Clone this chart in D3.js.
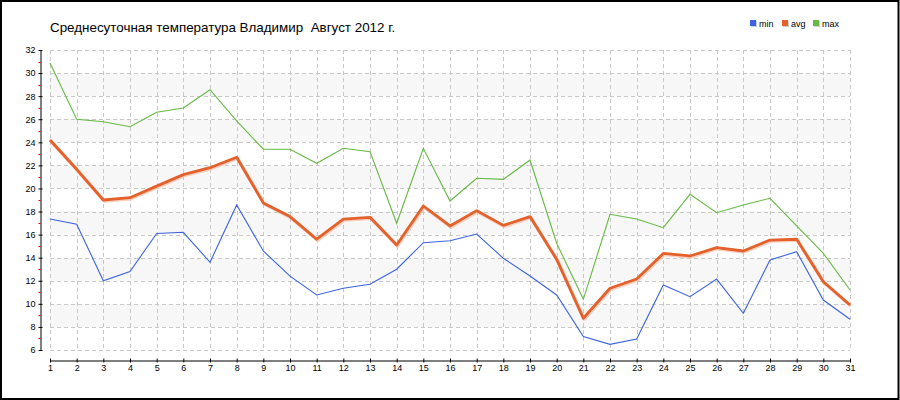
<!DOCTYPE html>
<html>
<head>
<meta charset="utf-8">
<script src="https://cdn.jsdelivr.net/npm/d3@7"></script>
<style>
  html, body { margin: 0; padding: 0; background: #fff; }
  svg { display: block; }
</style>
</head>
<body>
<svg id="chart" width="900" height="400"></svg>
<script>
const title = "Среднесуточная температура Владимир  Август 2012 г.";
const days = d3.range(1, 32);
const minValues = [17.35, 16.9, 12.0, 12.8, 16.1, 16.2, 13.6, 18.57, 14.58, 12.4, 10.77, 11.35, 11.7, 13.0, 15.3, 15.47, 16.05, 13.95, 12.41, 10.77, 7.16, 6.49, 6.95, 11.63, 10.62, 12.15, 9.18, 13.8, 14.52, 10.33, 8.66];
const avgValues = [24.2, 21.66, 19.0, 19.2, 20.2, 21.2, 21.8, 22.7, 18.75, 17.56, 15.6, 17.35, 17.5, 15.1, 18.48, 16.75, 18.08, 16.8, 17.56, 13.86, 8.75, 11.35, 12.15, 14.37, 14.15, 14.87, 14.58, 15.53, 15.6, 11.92, 9.9];
const maxValues = [30.87, 26.0, 25.78, 25.35, 26.6, 26.97, 28.56, 25.85, 23.4, 23.4, 22.18, 23.48, 23.19, 16.98, 23.48, 18.91, 20.88, 20.79, 22.47, 15.25, 10.39, 17.76, 17.35, 16.6, 19.49, 17.9, 18.57, 19.15, 16.75, 14.38, 11.2];
const seriesNames = ["min", "avg", "max"];
const seriesColors = ["#3d63e0", "#e4612b", "#66b944"];
const yTicks = d3.range(6, 33, 2);
const yMinorTicks = d3.range(7, 32, 2);
const bands = [[8, 10], [12, 14], [16, 18], [20, 22], [24, 26], [28, 30]];

const svg = d3.select("#chart");
const W = 900, H = 400;
const x = d3.scaleLinear().domain([1, 31]).range([50, 850]);
const y = d3.scaleLinear().domain([6, 32]).range([350, 50]);

// outer frame
svg.append("rect").attr("x", 1).attr("y", 1).attr("width", W - 2.5).attr("height", H - 2)
  .attr("fill", "#fff").attr("stroke", "#000").attr("stroke-width", 2);

// bands
svg.append("g").selectAll("rect").data(bands).join("rect")
  .attr("x", x(1)).attr("width", x(31) - x(1))
  .attr("y", d => y(d[1])).attr("height", d => y(d[0]) - y(d[1]))
  .attr("fill", "#f7f7f7");

// grid
const grid = svg.append("g").attr("stroke", "#c8c8c8").attr("stroke-width", 1).attr("stroke-dasharray", "4,3");
grid.selectAll(".h").data(yTicks).join("line")
  .attr("x1", x(1)).attr("x2", x(31))
  .attr("y1", d => Math.round(y(d)) + 0.5).attr("y2", d => Math.round(y(d)) + 0.5);
grid.selectAll(".v").data(days).join("line")
  .attr("y1", y(32)).attr("y2", y(6))
  .attr("x1", d => Math.round(x(d)) + 0.5).attr("x2", d => Math.round(x(d)) + 0.5);

// y axis
const yAxis = d3.axisLeft(y).tickValues(yTicks).tickSize(2).tickPadding(3).tickSizeOuter(0);
const gy = svg.append("g").attr("transform", "translate(40.5,0)").call(yAxis);
gy.select(".domain").attr("stroke", "#000");
gy.selectAll(".tick line").attr("x1", 2).attr("x2", -2).attr("stroke", "#000");
gy.selectAll(".tick text").attr("font-family", "Liberation Sans, Arial, sans-serif").attr("font-size", 9).attr("fill", "#000");
gy.selectAll(".minor").data(yMinorTicks).join("line")
  .attr("x1", -2).attr("x2", 0)
  .attr("y1", d => Math.round(y(d)) + 0.5).attr("y2", d => Math.round(y(d)) + 0.5)
  .attr("stroke", "#e00000");

// x axis
const xAxis = d3.axisBottom(x).tickValues(days).tickFormat(d3.format("d")).tickSize(2).tickPadding(2).tickSizeOuter(0);
const gx = svg.append("g").attr("transform", "translate(0,360.5)").call(xAxis);
gx.select(".domain").attr("stroke", "#000");
gx.selectAll(".tick line").attr("y1", -2).attr("y2", 2).attr("stroke", "#000");
gx.selectAll(".tick text").attr("font-family", "Liberation Sans, Arial, sans-serif").attr("font-size", 9).attr("fill", "#000");

// lines
const line = d3.line().x((d, i) => x(days[i])).y(d => y(d));
svg.append("path").datum(maxValues).attr("d", line).attr("fill", "none")
  .attr("stroke", seriesColors[2]).attr("stroke-width", 1.1);
svg.append("path").datum(minValues).attr("d", line).attr("fill", "none")
  .attr("stroke", seriesColors[0]).attr("stroke-width", 1.1);
svg.append("path").datum(avgValues).attr("d", line).attr("fill", "none")
  .attr("stroke", "#f5c4b0").attr("stroke-width", 3.5).attr("stroke-linejoin", "round")
  .attr("transform", "translate(0.8,1)").attr("opacity", 0.8);
svg.append("path").datum(avgValues).attr("d", line).attr("fill", "none")
  .attr("stroke", seriesColors[1]).attr("stroke-width", 2.8).attr("stroke-linejoin", "round");

// title
svg.append("text").attr("x", 50).attr("y", 32).text(title)
  .style("white-space", "pre").attr("xml:space", "preserve")
  .attr("font-family", "Liberation Sans, Arial, sans-serif").attr("font-size", 13.4).attr("fill", "#000");

// legend
const legendX = [750, 782, 813];
const lg = svg.append("g").selectAll("g").data(seriesNames).join("g")
  .attr("transform", (d, i) => `translate(${legendX[i]},20)`);
lg.append("rect").attr("x", 1).attr("y", 1).attr("width", 6).attr("height", 6).attr("fill", "#ccc");
lg.append("rect").attr("width", 6).attr("height", 6).attr("fill", (d, i) => seriesColors[i]);
lg.append("text").attr("x", 9).attr("y", 6.5).text(d => d)
  .attr("font-family", "Liberation Sans, Arial, sans-serif").attr("font-size", 9).attr("fill", "#000");
</script>
</body>
</html>
